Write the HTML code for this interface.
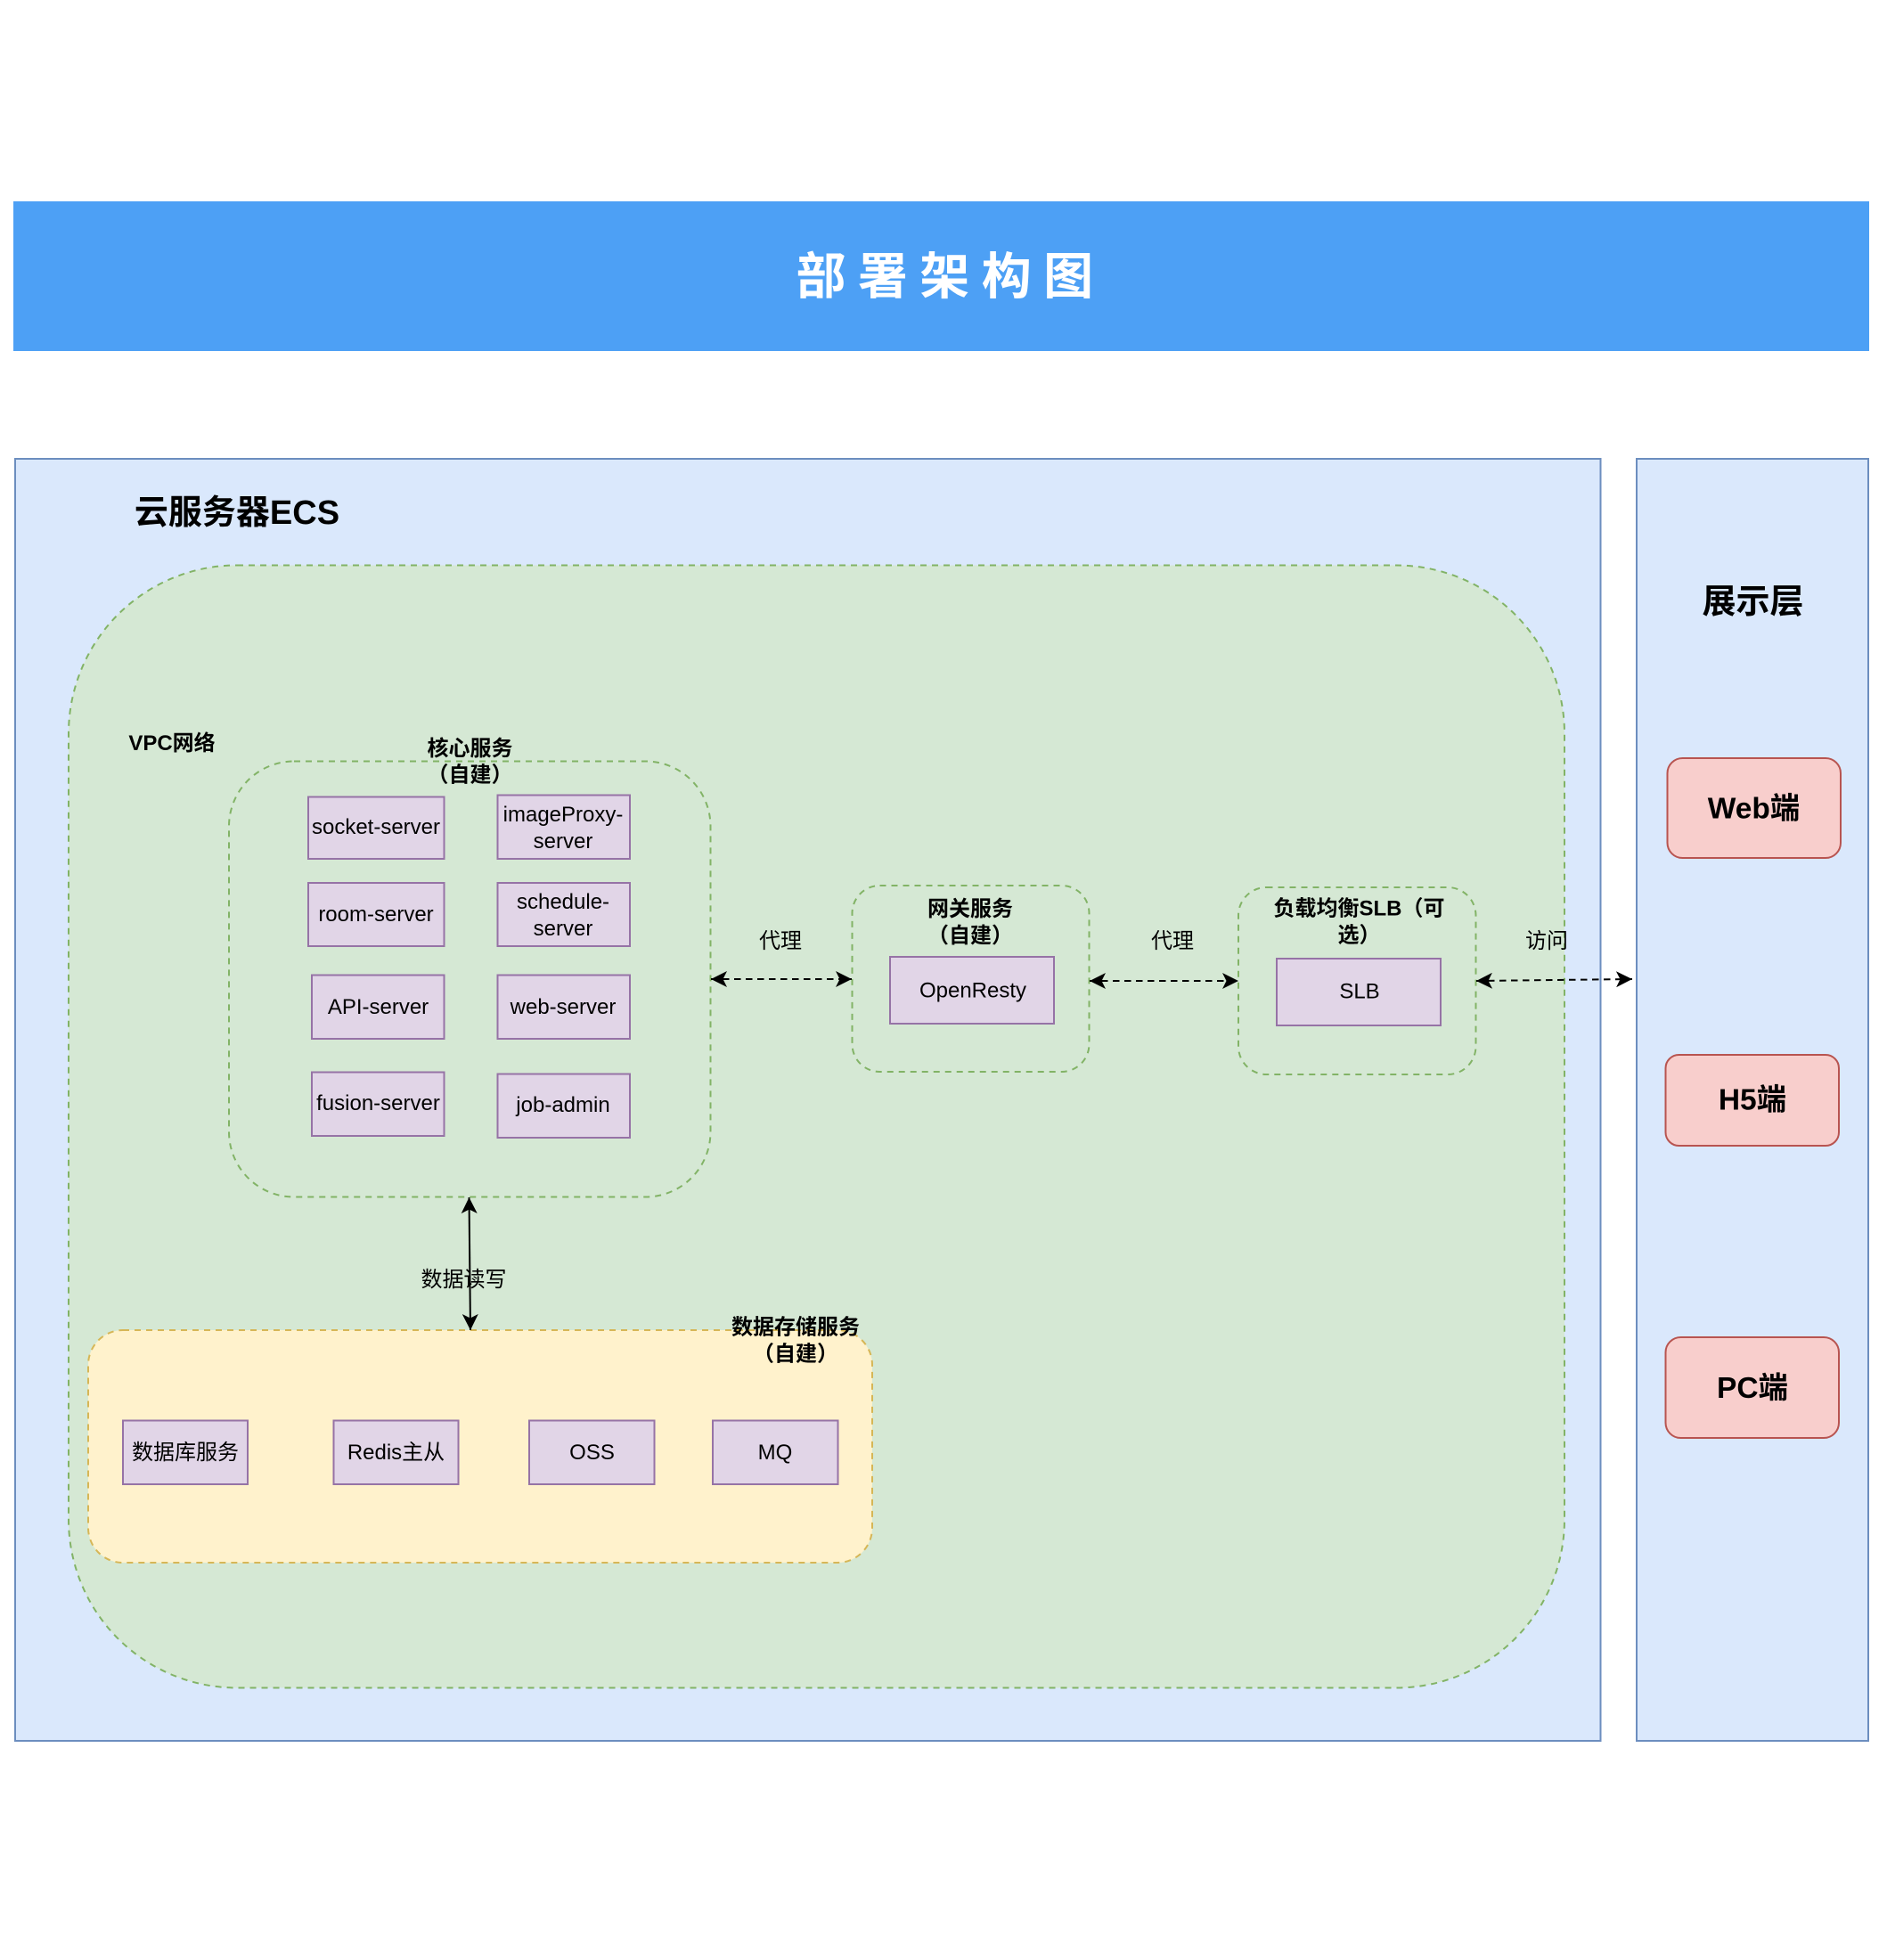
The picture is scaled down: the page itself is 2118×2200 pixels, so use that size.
<!DOCTYPE html>
<html lang="zh">
<head>
<meta charset="utf-8">
<title>部署架构图</title>
<style>
html,body{margin:0;padding:0;background:#fff;width:2118px;height:2200px;overflow:hidden}
svg{display:block;filter:blur(.35px)}
text{font-family:"Liberation Sans","Noto Sans CJK SC",sans-serif;fill:#000;text-anchor:middle;dominant-baseline:central;font-size:24px;transform:translateY(.6px)}
.b{font-weight:700}
.big{transform:none}
.n{fill:#e1d5e7;stroke:#9673a6;stroke-width:2}
.g{fill:#d5e8d4;stroke:#82b366;stroke-width:2;stroke-dasharray:7 6}
.r{fill:#f8cecc;stroke:#b85450;stroke-width:2}
.p{fill:#dae8fc;stroke:#6c8ebf;stroke-width:2}
.a{fill:none;stroke:#000;stroke-width:2;stroke-dasharray:7.5 5.5;marker-start:url(#h);marker-end:url(#h)}
</style>
</head>
<body>
<svg width="2118" height="2200" viewBox="0 0 2118 2200" xmlns="http://www.w3.org/2000/svg">
<defs>
<marker id="h" viewBox="0 0 18 18" refX="18" refY="9" markerWidth="18" markerHeight="18" markerUnits="userSpaceOnUse" orient="auto-start-reverse">
<path d="M18,9 L0,0 L4.5,9 L0,18 Z" fill="#000"/>
</marker>
</defs>

<rect x="15" y="226" width="2083" height="168" fill="#4da0f5"/>
<text x="1067" y="310.5" class="b big" style="font-size:56px;letter-spacing:13.4px;fill:#fff">部署架构图</text>

<rect class="p" x="17" y="515" width="1779.5" height="1439"/>
<rect class="p" x="1837" y="515" width="260" height="1439"/>

<text x="266" y="576" class="b big" style="font-size:38px">云服务器ECS</text>
<text x="1967.5" y="676" class="b big" style="font-size:38px">展示层</text>

<!-- VPC -->
<rect class="g" x="77" y="634.5" width="1679" height="1260" rx="189" ry="189"/>
<text x="193" y="834" class="b">VPC网络</text>

<!-- Core services -->
<rect class="g" x="257" y="854.5" width="540.5" height="489" rx="73" ry="73"/>
<text x="527.5" y="840" class="b">核心服务</text>
<text x="527.5" y="869.5" class="b">（自建）</text>

<rect class="n" x="346" y="894.5" width="152.5" height="69.5"/>
<text x="422" y="928">socket-server</text>
<rect class="n" x="558.5" y="892.5" width="148.5" height="71.5"/>
<text x="632" y="914">imageProxy-</text>
<text x="632" y="944">server</text>

<rect class="n" x="346" y="991" width="152.5" height="71"/>
<text x="422" y="1026">room-server</text>
<rect class="n" x="558.5" y="991" width="148.5" height="71"/>
<text x="632" y="1012">schedule-</text>
<text x="632" y="1042">server</text>

<rect class="n" x="350" y="1094.5" width="148.5" height="71.5"/>
<text x="424.5" y="1130">API-server</text>
<rect class="n" x="558.5" y="1094.5" width="148.5" height="71.5"/>
<text x="632" y="1130">web-server</text>

<rect class="n" x="350" y="1203.5" width="148.5" height="71.5"/>
<text x="424.5" y="1238">fusion-server</text>
<rect class="n" x="558.5" y="1205.5" width="148.5" height="71.5"/>
<text x="632" y="1240">job-admin</text>

<!-- Gateway -->
<rect class="g" x="956.5" y="994" width="266" height="209" rx="31" ry="31"/>
<text x="1089" y="1020" class="b">网关服务</text>
<text x="1089" y="1050" class="b">（自建）</text>
<rect class="n" x="999" y="1074" width="184" height="75"/>
<text x="1092" y="1111.6">OpenResty</text>

<!-- SLB -->
<rect class="g" x="1390" y="996" width="266.5" height="210" rx="31.5" ry="31.5"/>
<text x="1525.5" y="1019.5" class="b">负载均衡SLB（可</text>
<text x="1525.5" y="1049.5" class="b">选）</text>
<rect class="n" x="1433" y="1076" width="184" height="75"/>
<text x="1526" y="1112.6">SLB</text>

<!-- Data storage -->
<rect class="g" x="99" y="1493" width="880" height="261" rx="39" ry="39" style="fill:#fff2cc;stroke:#d6b656"/>
<text x="893" y="1489.5" class="b">数据存储服务</text>
<text x="893" y="1519.5" class="b">（自建）</text>
<rect class="n" x="138" y="1594.5" width="140" height="71.5"/>
<text x="208" y="1630">数据库服务</text>
<rect class="n" x="374.5" y="1594.5" width="140" height="71.5"/>
<text x="444.5" y="1630">Redis主从</text>
<rect class="n" x="594" y="1594.5" width="140.5" height="71.5"/>
<text x="664.5" y="1630">OSS</text>
<rect class="n" x="800" y="1594.5" width="140.5" height="71.5"/>
<text x="870" y="1630">MQ</text>

<!-- Client boxes -->
<rect class="r" x="1871.5" y="851" width="194.5" height="112" rx="17" ry="17"/>
<text x="1968.5" y="908" class="b big" style="font-size:33.5px">Web端</text>
<rect class="r" x="1869.5" y="1184" width="194.5" height="102" rx="15" ry="15"/>
<text x="1967" y="1235" class="b big" style="font-size:33.5px">H5端</text>
<rect class="r" x="1869.5" y="1501" width="194.5" height="113" rx="17" ry="17"/>
<text x="1967" y="1558.7" class="b big" style="font-size:33.5px">PC端</text>

<!-- Connectors -->
<path class="a" d="M798,1099 H956"/>
<path class="a" d="M1223,1101 H1390"/>
<path class="a" d="M1657,1101 L1832,1099"/>
<path d="M526.5,1344 L528,1493" fill="none" stroke="#000" stroke-width="2" marker-start="url(#h)" marker-end="url(#h)"/>

<text x="876" y="1056">代理</text>
<text x="1316" y="1056">代理</text>
<text x="1736" y="1056">访问</text>
<text x="520.5" y="1436">数据读写</text>
</svg>
</body>
</html>
